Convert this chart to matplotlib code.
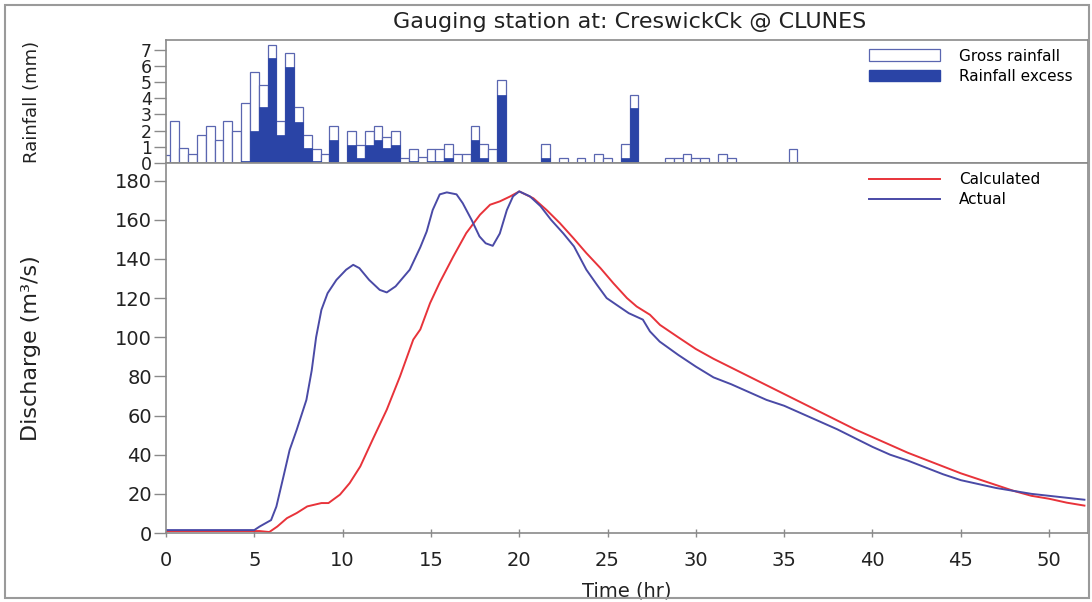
import numpy as np
import matplotlib
matplotlib.use('Agg')
import matplotlib.pyplot as plt
from matplotlib.patches import Rectangle, Patch

# rainfall, half-hour blocks
rain_t = np.arange(0, 36.5, 0.5)
gross = [0.5, 2.6, 0.9, 0.55, 1.75, 2.3, 1.4, 2.6, 2.0, 3.7,
         5.65, 4.8, 7.3, 2.6, 6.8, 3.45, 1.75, 0.88, 0.55, 2.3,
         0, 1.95, 1.1, 1.95, 2.3, 1.6, 1.95, 0.3, 0.88, 0.35,
         0.88, 0.88, 1.15, 0.55, 0.55, 2.3, 1.18, 0.85, 5.1, 0,
         0, 0, 0, 1.18, 0, 0.33, 0, 0.33, 0, 0.56,
         0.33, 0, 1.18, 4.22, 0, 0, 0, 0.33, 0.33, 0.56,
         0.33, 0.33, 0, 0.56, 0.33, 0, 0, 0, 0, 0,
         0, 0.87, 0]
excess = [0, 0, 0, 0, 0, 0, 0, 0, 0, 0.1,
          1.95, 3.45, 6.5, 1.75, 5.95, 2.55, 0.9, 0.12, 0, 1.42,
          0, 1.1, 0.28, 1.1, 1.42, 0.9, 1.12, 0, 0.12, 0,
          0.1, 0.1, 0.3, 0, 0, 1.42, 0.32, 0, 4.22, 0,
          0, 0, 0, 0.32, 0, 0, 0, 0, 0, 0,
          0, 0, 0.33, 3.4, 0, 0, 0, 0, 0, 0,
          0, 0, 0, 0, 0, 0, 0, 0, 0, 0,
          0, 0.08, 0]

# discharge (m3/s)
act_t = [0, 4, 5, 5.3, 5.95, 6.25, 6.65, 7.0, 7.4, 7.95, 8.25, 8.5, 8.8, 9.15, 9.65,
         10.2, 10.6, 10.95, 11.5, 12.1, 12.5, 13.0, 13.8, 14.4, 14.76, 15.1, 15.5, 15.9,
         16.45, 16.8, 17.3, 17.75, 18.1, 18.5, 18.9, 19.3, 19.65, 20.0, 20.6, 21.2, 21.8,
         22.5, 23.1, 23.8, 24.4, 24.95, 25.5, 26.2, 27.0, 27.4, 27.95, 29, 30, 31, 32,
         33, 34, 35, 36, 37, 38, 39, 40, 41, 42, 43, 44, 45, 46, 47, 48, 49, 50, 51, 52]
act_q = [1.5, 1.5, 1.5, 3.3, 6.6, 13.5, 28.8, 42.4, 52.7, 68, 83, 100, 114, 122.5, 129.3,
         134.5, 137, 135.3, 129.3, 124.2, 122.9, 126, 134.5, 146, 154, 165, 173, 174,
         173, 168.5, 160, 151.5, 148, 146.7, 153, 165, 172, 174.5, 172, 167, 160,
         153, 146.4, 134.5, 126.8, 120, 116.6, 112.3, 109, 103, 97.8, 91, 85, 79.5, 76,
         72, 68, 65, 61, 57, 53, 48.5, 44, 40, 37, 33.5, 30, 27, 25, 23, 21.5, 20, 19, 18, 17]

calc_t = [0, 5.3, 5.85, 6.3, 6.85, 7.4, 8.0, 8.8, 9.2, 9.85, 10.4, 11.0, 11.7, 12.5, 13.25,
          14.0, 14.4, 14.95, 15.5, 16.27, 17.0, 17.78, 18.35, 18.9, 19.48, 20.0, 20.8, 21.55,
          22.3, 23.07, 23.8, 24.6, 25.33, 26.1, 26.65, 27.4, 27.97, 29, 30, 31, 32, 33, 34,
          35, 36, 37, 38, 39, 40, 41, 42, 43, 44, 45, 46, 47, 48, 49, 50, 51, 52]
calc_q = [1, 1, 0.5, 3.3, 7.6, 10.2, 13.6, 15.3, 15.3, 19.6, 25.5, 34, 47.7, 63, 80,
          98.8, 104, 117.4, 128, 141.3, 153.2, 162.6, 167.7, 169.4, 171.9, 174.5, 171, 165,
          158.3, 150.6, 143, 135.3, 127.6, 120, 115.7, 111.5, 106.3, 100, 94, 89, 84.5, 80, 75.5,
          71, 66.5, 62, 57.5, 53, 49, 45, 41, 37.5, 34, 30.5, 27.5, 24.5, 21.5, 19, 17.5, 15.5, 14]

xticks = [0, 5, 10, 15, 20, 25, 30, 35, 40, 45, 50]

bar_blue = '#2a44a6'
edge_blue = '#5a66b0'
red = '#e8333a'
line_blue = '#4a4aa6'
grey = '#8a8a8a'
txt = '#222222'

plt.rcParams['font.family'] = ['DejaVu Sans']

fig = plt.figure(figsize=(10.92, 6.02), dpi=100)
fig.patches.append(Rectangle((0.005, 0.006), 0.992, 0.986, transform=fig.transFigure,
                             fill=False, edgecolor='#9a9a9a', linewidth=1.5))

ax1 = fig.add_axes([0.152, 0.7292, 0.8443, 0.2044])
ax2 = fig.add_axes([0.152, 0.1146, 0.8443, 0.6146], sharex=ax1)

# rainfall panel
ax1.bar(rain_t, gross, width=0.5, color='white', edgecolor=edge_blue, linewidth=0.9)
ax1.bar(rain_t, excess, width=0.5, color=bar_blue, edgecolor=bar_blue, linewidth=0.5)
ax1.set_ylim(0, 7.6)
ax1.set_yticks(range(8))
ax1.set_ylabel('Rainfall (mm)', fontsize=13, color=txt)
ax1.yaxis.set_label_coords(-0.136, 0.5)
ax1.tick_params(axis='x', labelbottom=False, length=0)
h1 = [Patch(facecolor='white', edgecolor=edge_blue, linewidth=0.9),
      Patch(facecolor=bar_blue, edgecolor=bar_blue)]
ax1.legend(h1, ['Gross rainfall', 'Rainfall excess'], loc='upper left', frameon=False,
           fontsize=11, handlelength=4.7, handleheight=0.8, handletextpad=1.2,
           bbox_to_anchor=(0.762, 0.93), borderpad=0, borderaxespad=0, labelspacing=0.35)

# discharge panel
ax2.plot(calc_t, calc_q, color=red, linewidth=1.4, label='Calculated')
ax2.plot(act_t, act_q, color=line_blue, linewidth=1.4, label='Actual')
ax2.set_ylim(0, 189)
ax2.set_xlim(0, 52.2)
ax2.set_yticks(range(0, 181, 20))
ax2.set_xticks(xticks)
ax2.set_xlabel('Time (hr)', fontsize=14, color=txt, labelpad=8)
ax2.set_ylabel('Discharge (m\u00b3/s)', fontsize=16, color=txt)
ax2.yaxis.set_label_coords(-0.136, 0.5)
ax2.legend(loc='upper left', frameon=False, fontsize=11, handlelength=4.7,
           handletextpad=1.2, bbox_to_anchor=(0.762, 0.976), borderpad=0,
           borderaxespad=0, labelspacing=0.35)

for ax in (ax1, ax2):
    for s in ax.spines.values():
        s.set_color(grey)
        s.set_linewidth(1.2)
ax1.tick_params(axis='y', direction='out', length=9, width=1, color=grey,
                labelsize=12.5, labelcolor=txt, pad=1)
ax2.tick_params(axis='y', direction='out', length=9, width=1, color=grey,
                labelsize=14, labelcolor=txt, pad=1)
ax2.tick_params(axis='x', direction='inout', length=6, width=1, color=grey,
                labelsize=14, labelcolor=txt, pad=10)

fig.text(0.577, 0.964, 'Gauging station at: CreswickCk @ CLUNES', ha='center', va='center',
         fontsize=16, color=txt)

plt.savefig('out.png', dpi=100)
plt.close()
